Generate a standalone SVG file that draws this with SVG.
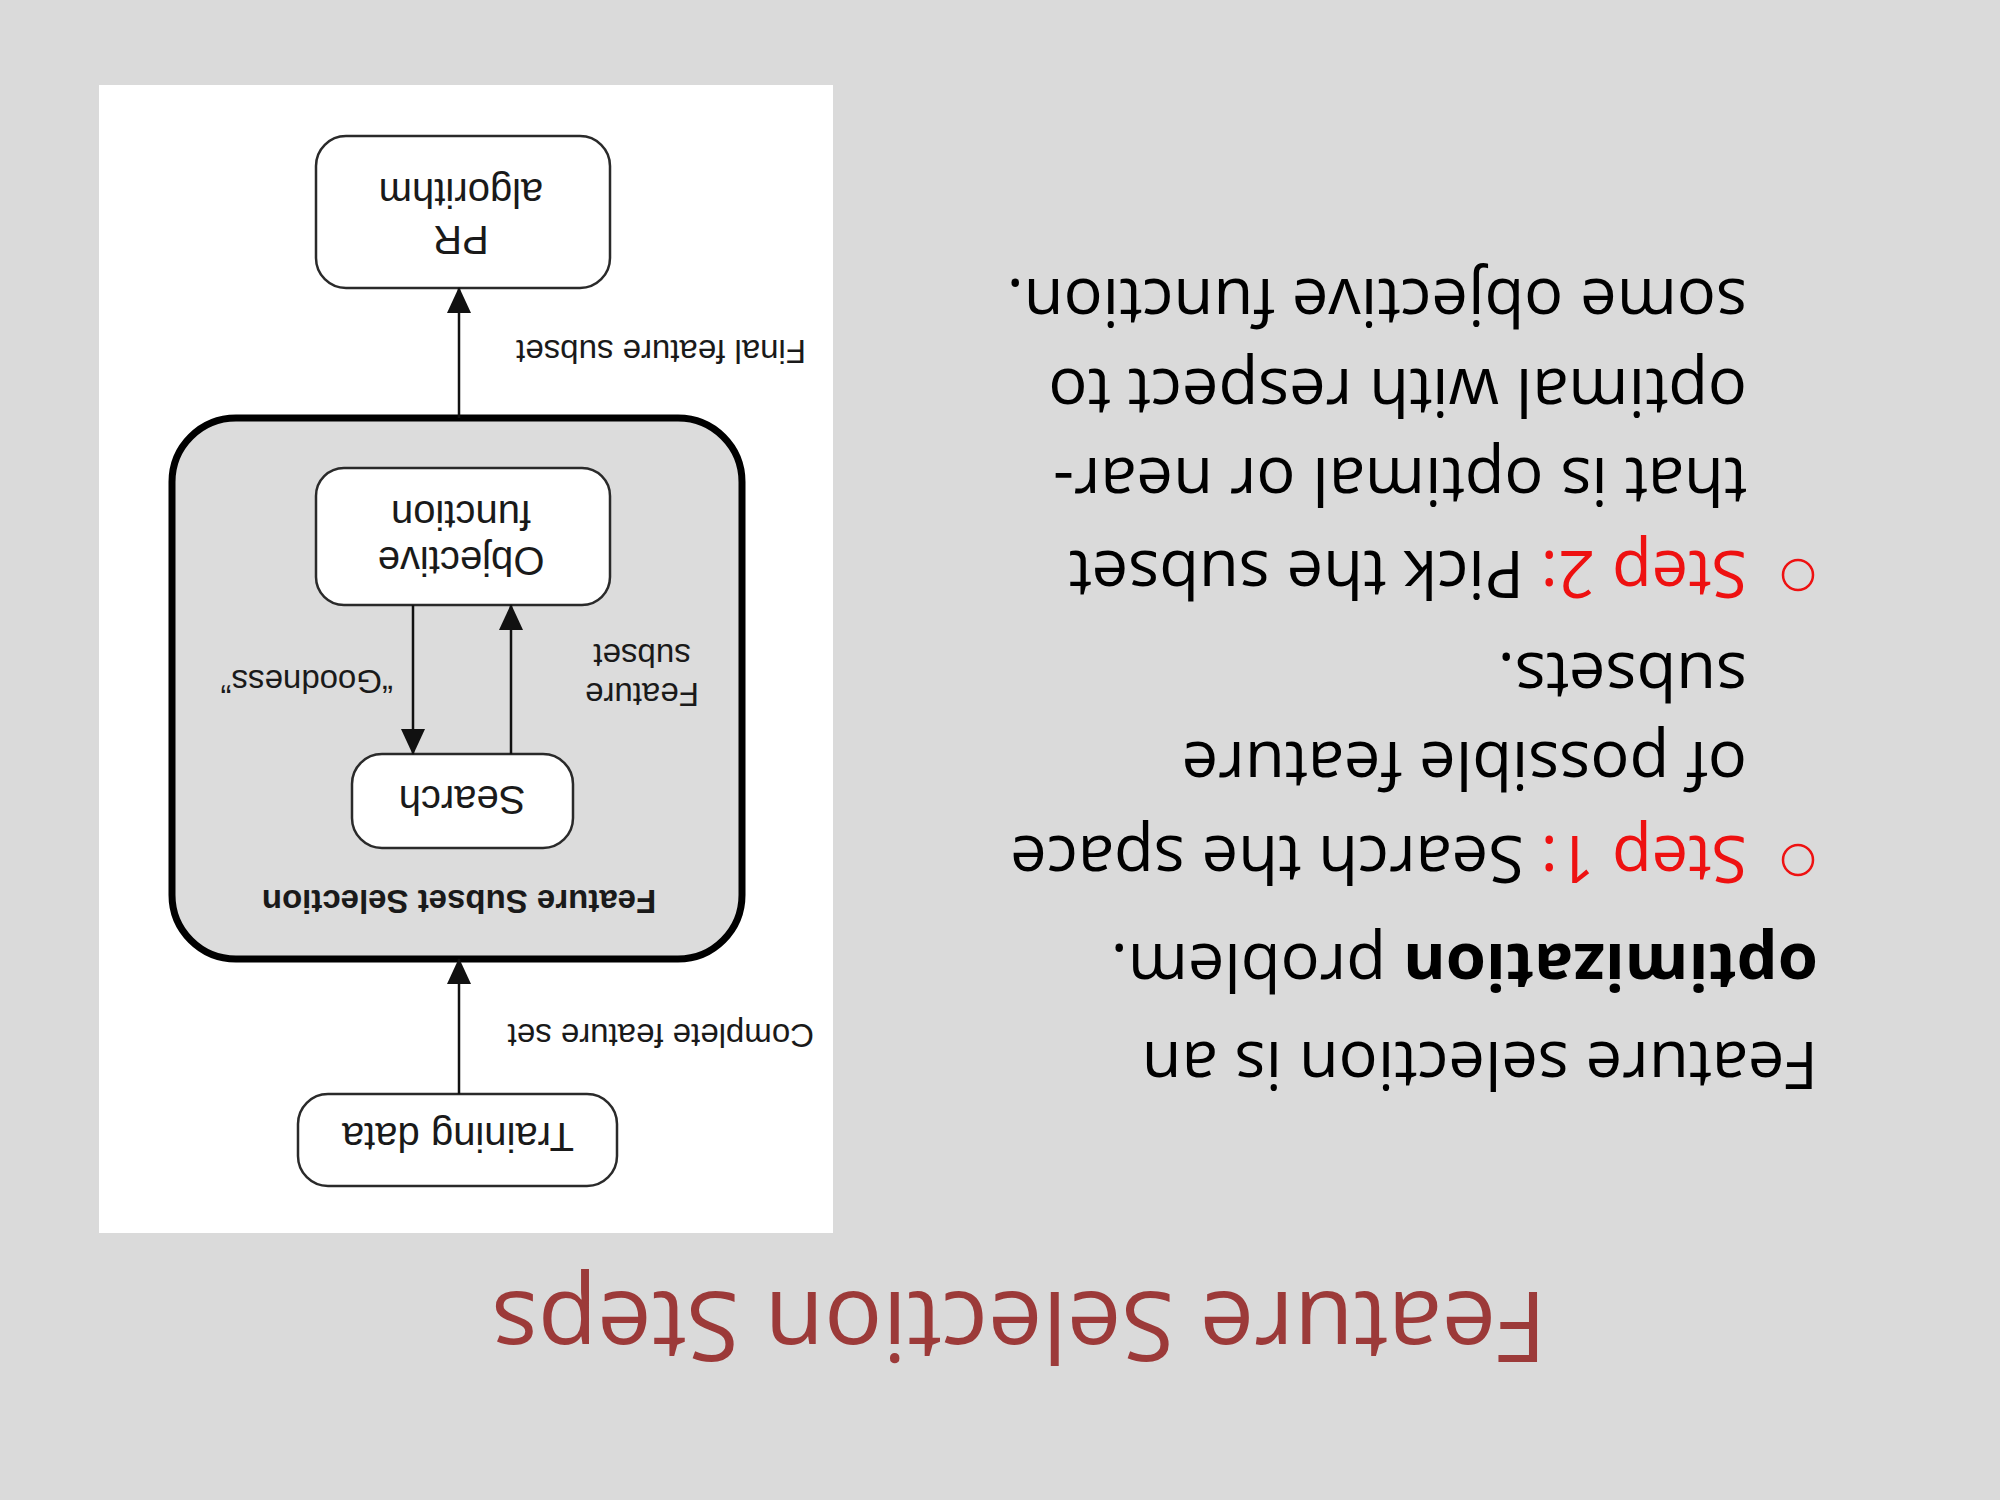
<svg xmlns="http://www.w3.org/2000/svg" width="2000" height="1500" viewBox="0 0 2000 1500">
<style>
.body{font-family:"Open Sans","Noto Sans",sans-serif;font-size:65px;fill:#000}
.red{fill:#ee1111}
.dg{font-family:"Liberation Sans",Arial,sans-serif;fill:#1a1a1a}
.node{font-size:40px;text-anchor:middle}
.lbl{font-size:33px}
.box{fill:#fff;stroke:#2a2a2a;stroke-width:2.5}
.conn{stroke:#111;stroke-width:2.5;fill:none}
</style>
<defs>
<marker id="ah" markerUnits="userSpaceOnUse" markerWidth="26" markerHeight="26" viewBox="0 0 26 26" refX="25" refY="13" orient="auto">
<path d="M0,1 L26,13 L0,25 Z" fill="#111"/>
</marker>
</defs>
<rect x="0" y="0" width="2000" height="1500" fill="#dadada"/>
<g transform="rotate(180 1000 750)">
<g id="title"><text x="981" y="208" text-anchor="middle" style="font-family:'Open Sans','Noto Sans',sans-serif;font-size:97px;fill:#9c3a39">Feature Selection Steps</text></g>
<g id="bullets">
<text class="body" x="182" y="458">Feature selection is an</text>
<text class="body" x="182" y="556"><tspan font-weight="bold">optimization</tspan> problem.</text>
<circle cx="202" cy="640" r="15" fill="none" stroke="#ee1111" stroke-width="2.5"/>
<text class="body" x="253" y="664"><tspan class="red">Step 1:</tspan> Search the space</text>
<text class="body" x="253" y="758">of possible feature</text>
<text class="body" x="253" y="847">subsets.</text>
<circle cx="202" cy="925" r="15" fill="none" stroke="#ee1111" stroke-width="2.5"/>
<text class="body" x="253" y="949"><tspan class="red">Step 2:</tspan> Pick the subset</text>
<text class="body" x="253" y="1042">that is optimal or near-</text>
<text class="body" x="253" y="1131">optimal with respect to</text>
<text class="body" x="253" y="1221">some objective function.</text>
</g>
<rect id="panel" x="1167" y="267" width="734" height="1148" fill="#fff"/>
<g id="fss">
<rect x="1258" y="541" width="570" height="541" rx="64" fill="#dcdcdc" stroke="#000" stroke-width="7"/>
<text class="dg lbl" x="1541" y="610" text-anchor="middle" font-weight="bold">Feature Subset Selection</text>
</g>
<g id="training">
<rect class="box" x="1383" y="314" width="319" height="92" rx="30"/>
<text class="dg node" x="1542" y="377">Training data</text>
</g>
<g id="search">
<rect class="box" x="1427" y="652" width="221" height="94" rx="30"/>
<text class="dg node" x="1538" y="714">Search</text>
</g>
<g id="objective">
<rect class="box" x="1390" y="895" width="294" height="137" rx="28"/>
<text class="dg node" x="1539" y="953">Objective</text>
<text class="dg node" x="1539" y="999">function</text>
</g>
<g id="pr">
<rect class="box" x="1390" y="1212" width="294" height="152" rx="30"/>
<text class="dg node" x="1539" y="1274">PR</text>
<text class="dg node" x="1539" y="1321">algorithm</text>
</g>
<g id="connectors">
<line class="conn" x1="1541" y1="406" x2="1541" y2="541" marker-end="url(#ah)"/>
<line class="conn" x1="1587" y1="895" x2="1587" y2="746" marker-end="url(#ah)"/>
<line class="conn" x1="1489" y1="746" x2="1489" y2="895" marker-end="url(#ah)"/>
<line class="conn" x1="1541" y1="1082" x2="1541" y2="1212" marker-end="url(#ah)"/>
<text class="dg lbl" x="1186" y="476">Complete feature set</text>
<text class="dg lbl" x="1607" y="830">“Goodness”</text>
<text class="dg lbl" x="1358" y="817" text-anchor="middle">Feature</text>
<text class="dg lbl" x="1358" y="856" text-anchor="middle">subset</text>
<text class="dg lbl" x="1194" y="1160">Final feature subset</text>
</g>
</g>
</svg>
